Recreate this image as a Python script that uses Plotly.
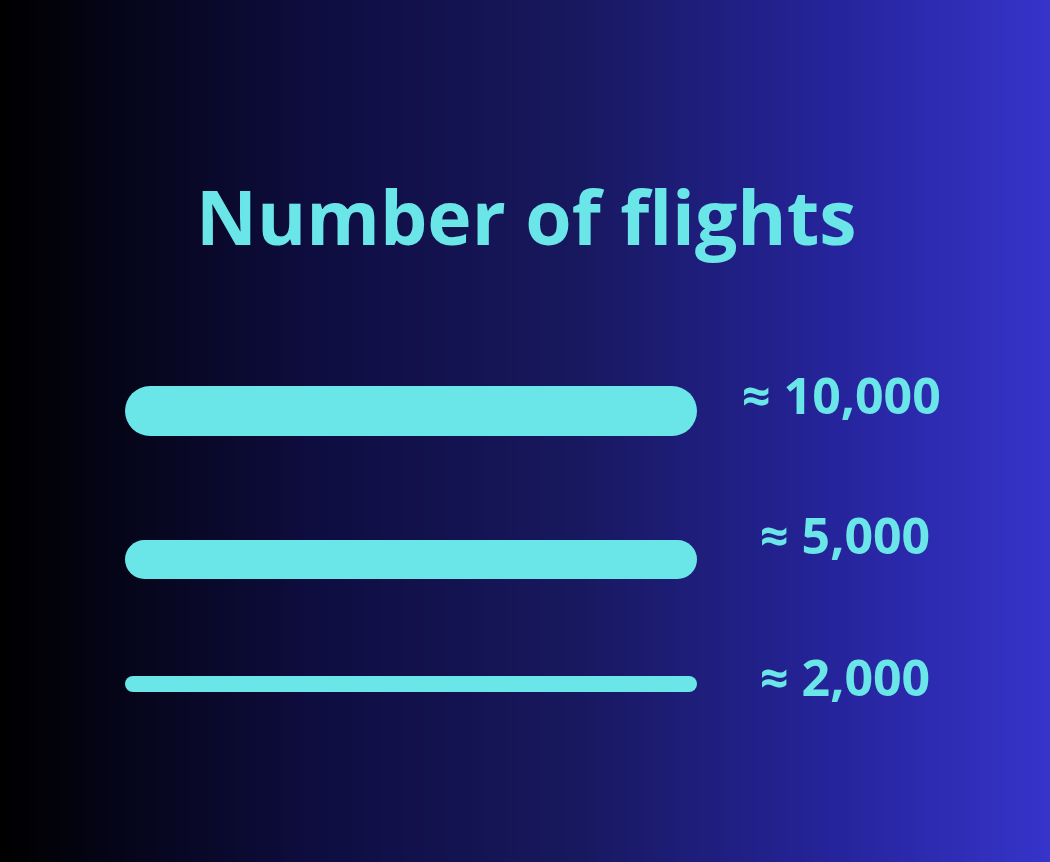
import plotly.graph_objects as go
import numpy as np

# Data
categories = ["≈ 10,000", "≈ 5,000", "≈ 2,000"]
values = [10000, 5000, 2000]
title_text = "Number of flights"

# Styles / layout (not data)
W, H = 1050, 862
bar_color = "#6be6e8"
bar_widths = [50, 39, 16]
row_y = [411, 559.5, 684]
label_y = [395, 535, 677]
label_x = [841, 845, 845]
bar_x0, bar_x1 = 125, 697
bg_stops = [[0.0, "#000000"], [0.3, "#0e0d40"], [0.55, "#18185f"], [0.8, "#26249c"], [1.0, "#3634ca"]]

fig = go.Figure()

# background gradient
n = 200
fig.add_trace(go.Heatmap(
    z=[list(range(n)), list(range(n))],
    x=np.linspace(0, W, n), y=[0, H],
    colorscale=bg_stops, showscale=False, zsmooth="best",
    hoverinfo="skip", xaxis="x2", yaxis="y2"))

for cat, v, w, y in zip(categories, values, bar_widths, row_y):
    fig.add_trace(go.Scatter(
        x=[bar_x0 + w / 2, bar_x1 - w / 2], y=[y, y], mode="lines+markers",
        line=dict(color=bar_color, width=w),
        marker=dict(color=bar_color, size=w, line=dict(width=0)),
        name=cat, hovertext=f"{v:,}", hoverinfo="text", showlegend=False))

for cat, x, y in zip(categories, label_x, label_y):
    fig.add_annotation(x=x, y=y, text=cat, showarrow=False,
                       font=dict(family="Open Sans", size=50, color=bar_color, weight="bold"),
                       xanchor="center", yanchor="middle")

fig.add_annotation(x=526, y=216, text=title_text, showarrow=False,
                   font=dict(family="Open Sans", size=75, color=bar_color, weight="bold"),
                   xanchor="center", yanchor="middle")

fig.update_layout(
    width=W, height=H, margin=dict(l=0, r=0, t=0, b=0),
    paper_bgcolor="#000000", plot_bgcolor="rgba(0,0,0,0)",
    xaxis2=dict(range=[0, W], visible=False, fixedrange=True),
    yaxis2=dict(range=[H, 0], visible=False, fixedrange=True),
    xaxis=dict(range=[0, W], visible=False, fixedrange=True, overlaying="x2"),
    yaxis=dict(range=[H, 0], visible=False, fixedrange=True, overlaying="y2"),
)

fig.write_html("out.html")
